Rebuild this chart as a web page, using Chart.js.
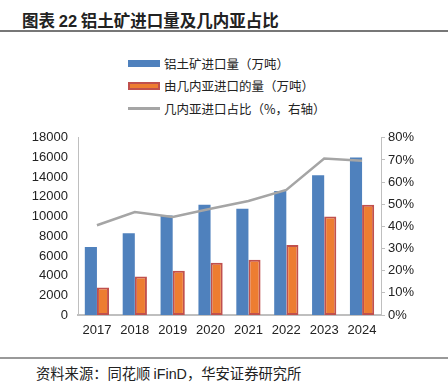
<!DOCTYPE html>
<html>
<head>
<meta charset="utf-8">
<script src="https://cdn.jsdelivr.net/npm/chart.js@4.4.0/dist/chart.umd.min.js"></script>
<style>
  body { margin: 0; width: 448px; height: 384px; background: #fff; position: relative; overflow: hidden;
         font-family: "Noto Sans CJK SC", "Liberation Sans", sans-serif; color: #222; }
  #title { position: absolute; left: 22px; top: 8px; font-size: 16.5px; font-weight: bold; white-space: nowrap; }
  #title .num { font-family: "Liberation Sans", Arial, sans-serif; }
  #topline { position: absolute; left: 0; top: 30px; width: 448px; height: 2px; background: #777; }
  #legend { position: absolute; left: 128px; top: 52px; font-size: 12.5px; }
  #legend .item { height: 22.5px; display: flex; align-items: center; white-space: nowrap; }
  #legend .sw { width: 32px; margin-right: 4px; box-sizing: border-box; }
  #chartBox { position: absolute; left: 0; top: 120px; width: 448px; height: 225px; }
  #bottomline { position: absolute; left: 0; top: 357px; width: 448px; height: 1.5px; background: #999; }
  #source { position: absolute; left: 36px; top: 362px; font-size: 14.3px; white-space: nowrap; }
  #source .lat { font-family: "Liberation Sans", Arial, sans-serif; }
</style>
</head>
<body>
<div id="title">图表 <span class="num">22</span> 铝土矿进口量及几内亚占比</div>
<div id="topline"></div>
<div id="legend"></div>
<div id="chartBox"><canvas id="chart" width="448" height="225"></canvas></div>
<div id="bottomline"></div>
<div id="source">资料来源：同花顺 <span class="lat">iFinD</span>，华安证券研究所</div>
<script>
// data
const years = ['2017', '2018', '2019', '2020', '2021', '2022', '2023', '2024'];
const importTotal = [6900, 8300, 10100, 11200, 10800, 12600, 14200, 16000];   // 万吨
const guineaImport = [2800, 3900, 4500, 5300, 5600, 7100, 10000, 11200];      // 万吨
const guineaShare = [40.5, 46.5, 44.3, 48, 51.5, 56.5, 70.6, 69.6];          // %

const seriesNames = ['铝土矿进口量（万吨）', '由几内亚进口的量（万吨）', '几内亚进口占比（%，右轴）'];

const blue = '#4f81bd';
const orange = '#ed7d31';
const orangeBorder = '#c0504d';
const gray = '#a5a5a5';
const axisColor = '#bfbfbf';
const tickFont = { family: 'Liberation Sans, Arial, sans-serif', size: 13 };

// html legend, vertical like the original
const legendSpecs = [
  { style: 'height:7px;background:' + blue },
  { style: 'height:8px;background:' + orange + ';border:2px solid ' + orangeBorder },
  { style: 'height:2.5px;background:' + gray }
];
const legendEl = document.getElementById('legend');
seriesNames.forEach((name, i) => {
  const item = document.createElement('div');
  item.className = 'item';
  item.innerHTML = '<div class="sw" style="' + legendSpecs[i].style + '"></div><span>' + name + '</span>';
  legendEl.appendChild(item);
});

const ctx = document.getElementById('chart').getContext('2d');
const chart = new Chart(ctx, {
  data: {
    labels: years,
    datasets: [
      {
        type: 'line',
        label: seriesNames[2],
        data: guineaShare,
        yAxisID: 'y1',
        borderColor: gray,
        borderWidth: 2.5,
        pointRadius: 0,
        tension: 0,
        order: 0
      },
      {
        type: 'bar',
        label: seriesNames[0],
        data: importTotal,
        yAxisID: 'y',
        backgroundColor: blue,
        borderWidth: 0,
        barPercentage: 1,
        categoryPercentage: 0.64,
        order: 1
      },
      {
        type: 'bar',
        label: seriesNames[1],
        data: guineaImport,
        yAxisID: 'y',
        backgroundColor: orange,
        borderColor: orangeBorder,
        borderWidth: 2,
        borderSkipped: false,
        barPercentage: 1,
        categoryPercentage: 0.64,
        order: 1
      }
    ]
  },
  options: {
    responsive: false,
    animation: false,
    layout: { padding: { top: 15, left: 0, right: 0, bottom: 0 } },
    plugins: {
      legend: { display: false },
      tooltip: { enabled: false }
    },
    scales: {
      x: {
        grid: { display: false, drawTicks: false },
        border: { display: true, color: axisColor, width: 2 },
        ticks: { color: '#222', font: tickFont, padding: 8, maxRotation: 0 },
        afterFit: function(scale) { scale.height = 30; }
      },
      y: {
        position: 'left',
        min: 0,
        max: 18000,
        grid: { display: false, drawTicks: false },
        border: { display: true, color: axisColor, width: 1 },
        ticks: {
          stepSize: 2000,
          color: '#222',
          font: tickFont,
          padding: 10,
          callback: function(value) { return String(value); }  // no thousands separator
        },
        afterFit: function(scale) { scale.width = 78; }
      },
      y1: {
        position: 'right',
        min: 0,
        max: 80,
        grid: { drawOnChartArea: false, drawTicks: true, tickLength: 4, color: axisColor },
        border: { display: true, color: axisColor, width: 1 },
        ticks: {
          stepSize: 10,
          color: '#222',
          font: tickFont,
          padding: 3,
          callback: function(value) { return value + '%'; }
        },
        afterFit: function(scale) { scale.width = 67; }
      }
    }
  }
});
</script>
</body>
</html>
